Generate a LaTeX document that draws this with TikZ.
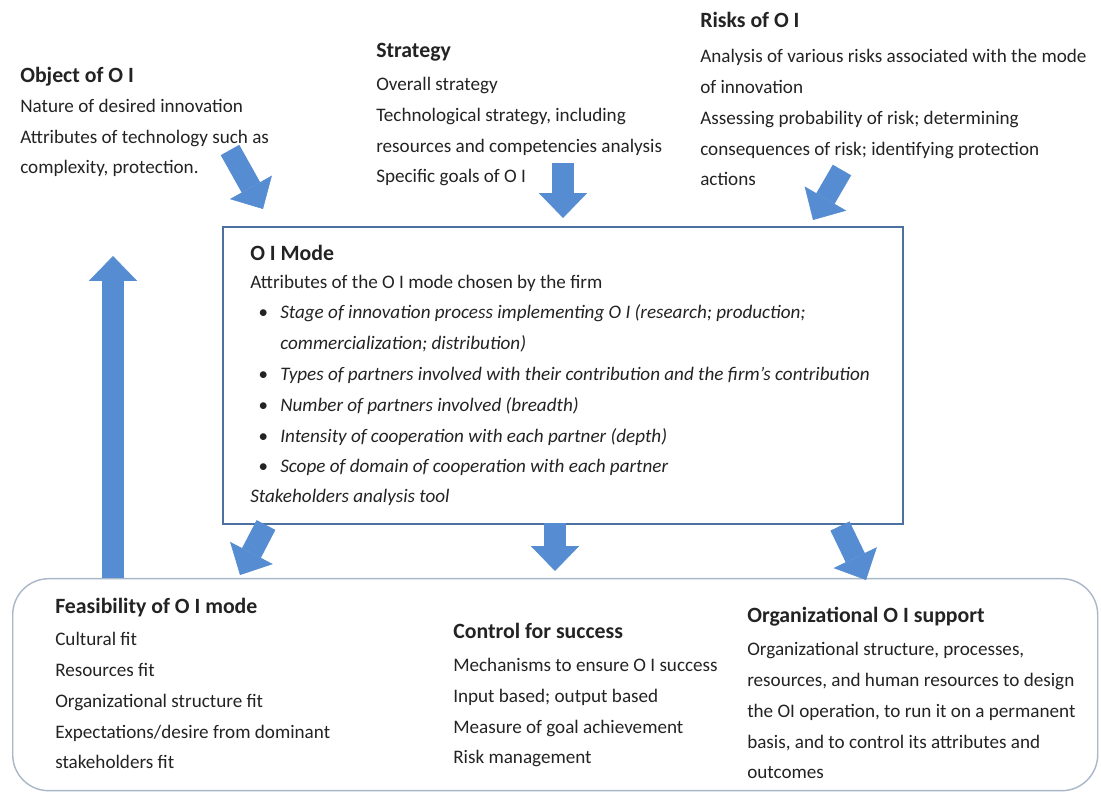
\documentclass[tikz,border=0pt]{standalone}
\usepackage{fontspec}
\setmainfont{Carlito}
\usetikzlibrary{arrows.meta}

\definecolor{arrowblue}{RGB}{86,141,210}
\definecolor{modeframe}{RGB}{76,112,160}
\definecolor{baseframe}{RGB}{168,184,200}
\definecolor{txtgray}{RGB}{35,35,35}

\newcommand{\bul}{\makebox[0.55cm][l]{\textbullet}}
\newcommand{\ind}{\hspace*{0.55cm}}

\begin{document}
\begin{tikzpicture}[x=0.025cm,y=-0.025cm,
  head/.style={anchor=base west,inner sep=0pt,text=txtgray,font=\fontsize{15.5}{18}\selectfont\bfseries},
  body/.style={anchor=base west,inner sep=0pt,align=left,text=txtgray,font=\fontsize{13.6}{22}\selectfont},
  bigarrow/.style={draw=arrowblue,line width=0.53cm,-{Triangle[length=0.62cm,width=1.2cm,line width=0.4pt]}}]
\fill[white] (0,0) rectangle (1101,793);
\useasboundingbox (0,0) rectangle (1101,793);

% frames
\node[draw=modeframe,line width=1.6pt,inner sep=0pt,minimum width=680*0.025cm,minimum height=297*0.025cm,anchor=north west] (mode) at (222,226) {};
\node[draw=baseframe,line width=1pt,rounded corners=0.9cm,inner sep=0pt,minimum width=1085*0.025cm,minimum height=212*0.025cm,anchor=north west] (base) at (12,578) {};

% top row (body nodes sit on their last line)
\node[head] (objT) at (20,83) {Object of O I};
\node[body] (objB) at (20,174) {Nature of desired innovation\\Attributes of technology such as\\complexity, protection.};
\node[head] (strT) at (376,58) {Strategy};
\node[body] (strB) at (376,183) {Overall strategy\\Technological strategy, including\\resources and competencies analysis\\Specific goals of O I};
\node[head] (riskT) at (700,28) {Risks of O I};
\node[body] (riskB) at (700,186) {Analysis of various risks associated with the mode\\of innovation\\Assessing probability of risk; determining\\consequences of risk; identifying protection\\actions};

% O I mode
\node[head] (modeT) at (250,261) {O I Mode};
\node[body] (modeA) at (250,289) {Attributes of the O I mode chosen by the firm};
\node[body,font=\fontsize{13.6}{22}\selectfont\itshape] (modeL) at (258,473) {\bul Stage of innovation process implementing O I (research; production;\\
\ind commercialization; distribution)\\
\bul Types of partners involved with their contribution and the firm’s contribution\\
\bul Number of partners involved (breadth)\\
\bul Intensity of cooperation with each partner (depth)\\
\bul Scope of domain of cooperation with each partner};
\node[body,font=\fontsize{13.6}{22}\selectfont\itshape] (modeS) at (250,503) {Stakeholders analysis tool};

% bottom row
\node[head] (feaT) at (55,614) {Feasibility of O I mode};
\node[body] (feaB) at (55,769) {Cultural fit\\Resources fit\\Organizational structure fit\\Expectations/desire from dominant\\stakeholders fit};
\node[head] (ctlT) at (453,639) {Control for success};
\node[body] (ctlB) at (453,764) {Mechanisms to ensure O I success\\Input based; output based\\Measure of goal achievement\\Risk management};
\node[head] (orgT) at (747,623) {Organizational O I support};
\node[body] (orgB) at (747,779) {Organizational structure, processes,\\resources, and human resources to design\\the OI operation, to run it on a permanent\\basis, and to control its attributes and\\outcomes};

% arrow ends
\coordinate (a1) at (230,150); \coordinate (b1) at (263,209);
\coordinate (a2) at (563,163); \coordinate (b2) at (563,218);
\coordinate (a3) at (842,170); \coordinate (b3) at (813,220);
\coordinate (a4) at (113,578); \coordinate (b4) at (113,256);
\coordinate (a5) at (266,525); \coordinate (b5) at (240,575);
\coordinate (a6) at (555,523); \coordinate (b6) at (555,571);
\coordinate (a7) at (840,526); \coordinate (b7) at (866,580);

\foreach \s/\e in {a1/b1,a2/b2,a3/b3,a4/b4,a5/b5,a6/b6,a7/b7}
  \draw[bigarrow] (\s) -- (\e);
\end{tikzpicture}
\end{document}
